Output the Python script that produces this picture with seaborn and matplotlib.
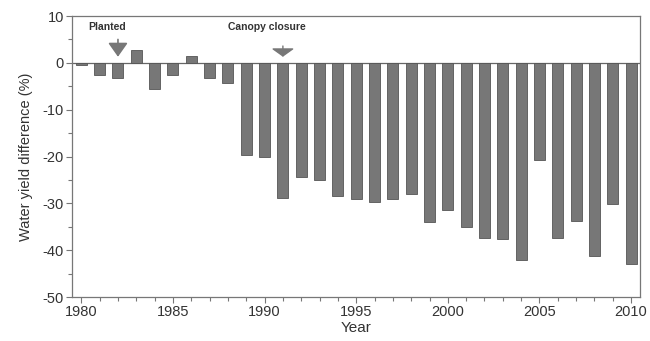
import matplotlib
matplotlib.use("Agg")
import matplotlib.pyplot as plt
import seaborn as sns
import pandas as pd

years = list(range(1980, 2011))
diff = [-0.5, -2.5, -3.2, 2.7, -5.5, -2.6, 1.4, -3.2, -4.2, -19.7, -20.1,
        -28.9, -24.4, -25.0, -28.5, -29.1, -29.8, -29.1, -28.0, -34.0, -31.5,
        -35.0, -37.3, -37.6, -42.0, -20.8, -37.3, -33.8, -41.2, -30.2, -42.9]
xticks = [1980, 1985, 1990, 1995, 2000, 2005, 2010]
yticks = [10, 0, -10, -20, -30, -40, -50]

sns.set_style("ticks")
plt.rcParams['font.family'] = ['Liberation Sans', 'DejaVu Sans']
plt.rcParams['axes.unicode_minus'] = False

df = pd.DataFrame({"Year": years, "diff": diff})
fig = plt.figure(figsize=(6.5, 3.41), dpi=100)
ax = fig.add_axes([0.111, 0.129, 0.874, 0.824])
sns.barplot(data=df, x="Year", y="diff", native_scale=True, width=0.6,
            color="#777777", edgecolor="#555555", linewidth=0.6, ax=ax,
            saturation=1)

ax.axhline(0, color="#666666", lw=0.9, zorder=0)
ax.set_xlim(1979.5, 2010.5)
ax.set_ylim(-50, 10)
ax.set_xticks(xticks)
ax.set_xticks(years, minor=True)
ax.set_yticks(yticks)
ax.set_yticks(range(-45, 10, 10), minor=True)
for s in ax.spines.values():
    s.set_color("#777777")
    s.set_linewidth(0.9)
ax.tick_params(which="both", direction="out", color="#777777", width=0.8)
ax.tick_params(which="major", length=4, labelsize=10.5, labelcolor="#333333", pad=2)
ax.tick_params(which="minor", length=3)
ax.set_xlabel("Year", fontsize=11, color="#333333", labelpad=1)
ax.set_ylabel("Water yield difference (%)", fontsize=10.5, color="#333333", labelpad=7)

ax.annotate("", xy=(1982, 1.3), xytext=(1982, 5.0),
            arrowprops=dict(arrowstyle="-|>,head_width=0.6,head_length=0.85",
                            color="#777777", lw=1.2, shrinkA=0, shrinkB=0))
ax.annotate("", xy=(1991, 1.3), xytext=(1991, 3.6),
            arrowprops=dict(arrowstyle="-|>,head_width=0.7,head_length=0.5",
                            color="#777777", lw=1.0, shrinkA=0, shrinkB=0))
ax.text(1981.4, 7.7, "Planted", ha="center", va="center", fontsize=7.5,
        fontweight="bold", color="#333333")
ax.text(1990.1, 7.7, "Canopy closure", ha="center", va="center", fontsize=7.5,
        fontweight="bold", color="#333333")

fig.savefig("out.png", dpi=100)
